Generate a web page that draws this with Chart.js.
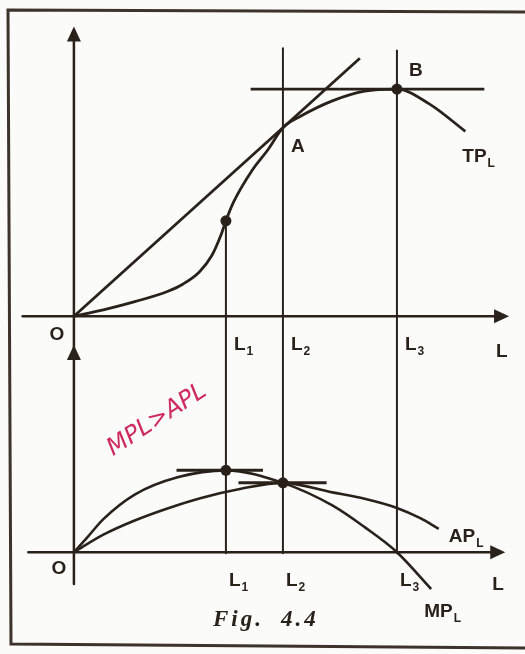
<!DOCTYPE html>
<html lang="es">
<head>
<meta charset="utf-8">
<title>Fig. 4.4</title>
<script src="https://cdn.jsdelivr.net/npm/chart.js@4.4.1/dist/chart.umd.min.js"></script>
<style>
    html, body { margin: 0; padding: 0; background: #fbfbf9; }
    #grafico { display: block; }
</style>
</head>
<body>
<canvas id="grafico" width="525" height="654"></canvas>
<script>

//Valores de trabajo donde se marcan L1, L2 y L3
var etiquetasL = ['L_1', 'L_2', 'L_3'];
var valoresL = [8, 11, 17];
//Altura desde donde parte cada vertical (en unidades de TP)
var topesL = [42, 118, 117];

//Producto total
var trabajoTP = [0, 1.55, 3.25, 4.95, 5.75, 6.6, 7.25, 7.75, 8, 8.4, 9.4, 10.2, 11, 11.9, 13.6, 15.3, 17, 18.7, 20.6];
var productoTotal = [0, 2.8, 6.5, 11, 14.2, 19.5, 26.6, 36, 42, 50.2, 64.5, 73.2, 83, 87.9, 94.8, 99.1, 100, 93.5, 81.4];

//Recta desde el origen que toca la curva en A
var rectaX = [0, 15.05];
var rectaY = [0, 113.6];

//Tangente horizontal en B
var tangenteBX = [9.3, 21.6];

//Producto marginal
var trabajoMP = [0, 0.67, 1.55, 3.2, 5.5, 8, 11, 13.6, 15.3, 17, 18.8];
var productoMarginal = [0, 8.4, 19.8, 34.5, 45, 49, 41.5, 28, 15, 0, -22];

//Producto medio
var trabajoAP = [0, 1.55, 3.2, 5, 6.7, 8.8, 11, 13.6, 15.3, 17, 18.2, 19.2];
var productoMedio = [0, 10.5, 19, 26.5, 32.5, 38, 41.5, 35.8, 32, 26.5, 20.5, 14];

//Tangentes horizontales en los maximos de MP y AP
var tangenteMPX = [5.4, 9.95];
var tangenteAPX = [8.66, 13.3];

var nombresCurvas = ['TP_L', 'MP_L', 'AP_L'];
var puntosNombrados = ['A', 'B'];

var colorTinta = '#2a211b';

function puntos(xs, ys) {
    return xs.map(function (v, i) {
        return { x: v, y: ys[i] };
    });
}

function valorEn(xs, ys, x) {
    return ys[xs.indexOf(x)];
}

//Punta de flecha rellena con la punta en (px, py)
function flecha(ctx, px, py, dx, dy) {
    var largo = 15;
    var ancho = 7;
    var bx = px - dx * largo;
    var by = py - dy * largo;
    ctx.beginPath();
    ctx.moveTo(px, py);
    ctx.lineTo(bx - dy * ancho, by + dx * ancho);
    ctx.lineTo(bx + dy * ancho, by - dx * ancho);
    ctx.closePath();
    ctx.fill();
}

//Texto en negrita con subindice ("L_1" -> L con 1 abajo)
function textoSub(ctx, texto, x, y) {
    var partes = texto.split('_');
    ctx.textAlign = 'left';
    ctx.textBaseline = 'alphabetic';
    ctx.font = 'bold 19px "Liberation Sans"';
    ctx.fillText(partes[0], x, y);
    if (partes[1]) {
        var w = ctx.measureText(partes[0]).width;
        ctx.font = 'bold 12px "Liberation Sans"';
        ctx.fillText(partes[1], x + w + 1, y + 5);
    }
}

var dibujoFigura = {
    id: 'dibujoFigura',
    beforeDatasetsDraw: function (chart) {
        var ctx = chart.ctx;
        var ejeX = chart.scales.x;
        var ejeTP = chart.scales.yTP;
        var ejeMP = chart.scales.yMP;

        ctx.save();
        ctx.lineCap = 'round';

        //Marco de la figura
        ctx.strokeStyle = '#3d332b';
        ctx.lineWidth = 3;
        ctx.beginPath();
        ctx.moveTo(chart.width + 5, 12);
        ctx.lineTo(8, 10);
        ctx.lineTo(11, 644);
        ctx.lineTo(chart.width + 5, 648);
        ctx.stroke();

        ctx.strokeStyle = colorTinta;
        ctx.fillStyle = colorTinta;

        var x0 = ejeX.getPixelForValue(0);
        var ySup = ejeTP.getPixelForValue(0);
        var yInf = ejeMP.getPixelForValue(0);

        //Eje vertical comun a los dos paneles
        var puntaTP = ejeTP.getPixelForValue(127.5);
        var puntaMP = ejeMP.getPixelForValue(124);
        ctx.lineWidth = 2.5;
        ctx.beginPath();
        ctx.moveTo(x0, puntaTP + 10);
        ctx.lineTo(x0, ejeMP.getPixelForValue(-19));
        ctx.stroke();
        flecha(ctx, x0, puntaTP, 0, -1);
        flecha(ctx, x0, puntaMP, 0, -1);

        //Ejes horizontales
        var finSup = ejeX.getPixelForValue(22.9);
        var finInf = ejeX.getPixelForValue(22.7);
        ctx.beginPath();
        ctx.moveTo(ejeX.getPixelForValue(-2.7), ySup);
        ctx.lineTo(finSup - 10, ySup);
        ctx.moveTo(ejeX.getPixelForValue(-2.4), yInf);
        ctx.lineTo(finInf - 10, yInf);
        ctx.stroke();
        flecha(ctx, finSup, ySup, 1, 0);
        flecha(ctx, finInf, yInf, 1, 0);

        //Verticales en L1, L2 y L3 que cruzan ambos paneles
        ctx.lineWidth = 2;
        valoresL.forEach(function (v, i) {
            var px = ejeX.getPixelForValue(v);
            ctx.beginPath();
            ctx.moveTo(px, ejeTP.getPixelForValue(topesL[i]));
            ctx.lineTo(px, yInf + 1);
            ctx.stroke();
        });

        ctx.restore();
    },
    afterDatasetsDraw: function (chart) {
        var ctx = chart.ctx;
        var ejeX = chart.scales.x;
        var ejeTP = chart.scales.yTP;
        var ejeMP = chart.scales.yMP;

        ctx.save();
        ctx.fillStyle = colorTinta;

        var x0 = ejeX.getPixelForValue(0);
        var ySup = ejeTP.getPixelForValue(0);
        var yInf = ejeMP.getPixelForValue(0);

        //Origenes
        ctx.font = 'bold 19px "Liberation Sans"';
        ctx.textAlign = 'center';
        ctx.textBaseline = 'middle';
        ctx.fillText('O', x0 - 17, ySup + 19);
        ctx.fillText('O', x0 - 15, yInf + 17);

        //Etiquetas L1, L2, L3 bajo cada eje
        valoresL.forEach(function (v, i) {
            var px = ejeX.getPixelForValue(v);
            textoSub(ctx, etiquetasL[i], px + 8, ySup + 34);
            textoSub(ctx, etiquetasL[i], px + 3, yInf + 34);
        });
        textoSub(ctx, 'L', ejeX.getPixelForValue(22.9) - 13, ySup + 41);
        textoSub(ctx, 'L', ejeX.getPixelForValue(22.7) - 13, yInf + 38);

        //Puntos A y B sobre la curva de producto total
        var xA = ejeX.getPixelForValue(valoresL[1]);
        var yA = ejeTP.getPixelForValue(valorEn(trabajoTP, productoTotal, valoresL[1]));
        var xB = ejeX.getPixelForValue(valoresL[2]);
        var yB = ejeTP.getPixelForValue(valorEn(trabajoTP, productoTotal, valoresL[2]));
        ctx.font = 'bold 19px "Liberation Sans"';
        ctx.textAlign = 'center';
        ctx.textBaseline = 'middle';
        ctx.fillText(puntosNombrados[0], xA + 15, yA + 19);
        ctx.fillText(puntosNombrados[1], xB + 19, yB - 18);

        //Nombres de las curvas junto a su extremo
        var ultTP = trabajoTP.length - 1;
        var ultMP = trabajoMP.length - 1;
        var ultAP = trabajoAP.length - 1;
        textoSub(ctx, nombresCurvas[0], ejeX.getPixelForValue(trabajoTP[ultTP]) - 3, ejeTP.getPixelForValue(productoTotal[ultTP]) + 31);
        textoSub(ctx, nombresCurvas[1], ejeX.getPixelForValue(trabajoMP[ultMP]) - 7, ejeMP.getPixelForValue(productoMarginal[ultMP]) + 28);
        textoSub(ctx, nombresCurvas[2], ejeX.getPixelForValue(trabajoAP[ultAP]) + 10, ejeMP.getPixelForValue(productoMedio[ultAP]) + 13);

        //Pie de figura
        ctx.font = 'italic bold 23px "Liberation Serif"';
        ctx.textAlign = 'left';
        ctx.textBaseline = 'alphabetic';
        ctx.letterSpacing = '3px';
        ctx.fillText('Fig.', 213, 626);
        ctx.fillText('4.4', 281, 626);
        ctx.letterSpacing = '0px';

        //Anotacion a mano
        ctx.save();
        ctx.translate(157, 420);
        ctx.rotate(-33 * Math.PI / 180);
        ctx.fillStyle = '#cf2a5e';
        ctx.font = 'italic 24px "DejaVu Sans"';
        ctx.textAlign = 'center';
        ctx.textBaseline = 'middle';
        ctx.fillText('MPL>APL', 0, 0);
        ctx.restore();

        ctx.restore();
    }
};

function curva(datos, eje, grosor, suave) {
    return {
        data: datos,
        yAxisID: eje,
        showLine: true,
        borderColor: colorTinta,
        borderWidth: grosor,
        pointRadius: 0,
        fill: false,
        cubicInterpolationMode: suave ? 'monotone' : 'default',
        tension: 0
    };
}

function marcas(datos, eje) {
    return {
        data: datos,
        yAxisID: eje,
        showLine: false,
        pointRadius: 5.5,
        pointBackgroundColor: colorTinta,
        pointBorderColor: colorTinta,
        pointBorderWidth: 0
    };
}

function crearGrafico() {
    var ctx = document.getElementById('grafico').getContext('2d');

    var tpL1 = valorEn(trabajoTP, productoTotal, valoresL[0]);
    var tpL3 = valorEn(trabajoTP, productoTotal, valoresL[2]);
    var mpL1 = valorEn(trabajoMP, productoMarginal, valoresL[0]);
    var apL2 = valorEn(trabajoAP, productoMedio, valoresL[1]);

    var grafico = new Chart(ctx, {
        type: 'scatter',
        data: {
            datasets: [
                curva(puntos(trabajoTP, productoTotal), 'yTP', 2.8, true),
                curva(puntos(rectaX, rectaY), 'yTP', 2.8, false),
                curva(puntos(tangenteBX, [tpL3, tpL3]), 'yTP', 2.8, false),
                curva(puntos(trabajoMP, productoMarginal), 'yMP', 2.6, true),
                curva(puntos(trabajoAP, productoMedio), 'yMP', 2.6, true),
                curva(puntos(tangenteMPX, [mpL1, mpL1]), 'yMP', 3, false),
                curva(puntos(tangenteAPX, [apL2, apL2]), 'yMP', 3, false),
                marcas(puntos([valoresL[0], valoresL[2]], [tpL1, tpL3]), 'yTP'),
                marcas(puntos([valoresL[0], valoresL[1]], [mpL1, apL2]), 'yMP')
            ]
        },
        options: {
            responsive: false,
            animation: false,
            layout: { padding: 0 },
            plugins: {
                legend: { display: false },
                tooltip: { enabled: false },
                title: { display: false }
            },
            scales: {
                x: { type: 'linear', display: false, min: -3.6, max: 23.45 },
                y: { type: 'linear', display: false },
                yTP: { type: 'linear', axis: 'y', display: false, min: -146.3, max: 136.8 },
                yMP: { type: 'linear', axis: 'y', display: false, min: -57.6, max: 327.1 }
            }
        },
        plugins: [dibujoFigura]
    });

    return grafico;
}

crearGrafico();
</script>
</body>
</html>
